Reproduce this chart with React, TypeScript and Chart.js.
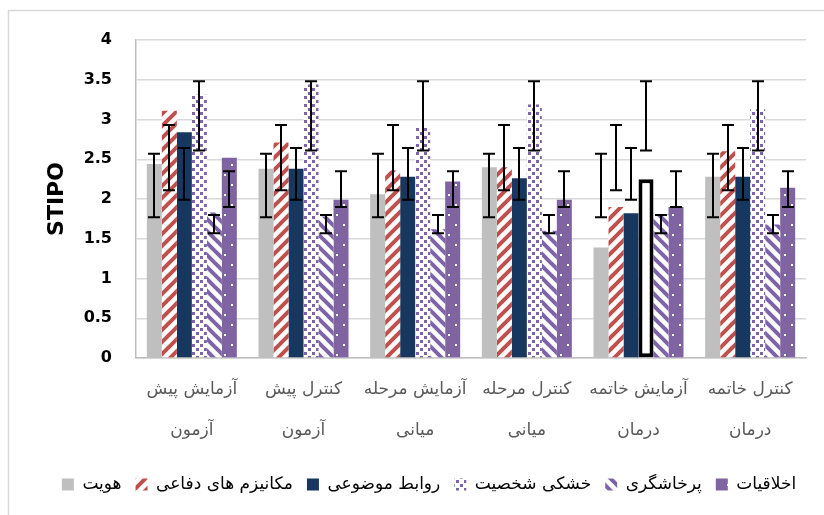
import { useEffect, useRef } from 'react';
import { Chart, registerables } from 'chart.js';
Chart.register(...registerables);

const FONT = "'DejaVu Sans', sans-serif";

const categories = [
  ['آزمایش پیش', 'آزمون'],
  ['کنترل پیش', 'آزمون'],
  ['آزمایش مرحله', 'میانی'],
  ['کنترل مرحله', 'میانی'],
  ['آزمایش خاتمه', 'درمان'],
  ['کنترل خاتمه', 'درمان'],
];

const seriesNames = ['هویت', 'مکانیزم های دفاعی', 'روابط موضوعی', 'خشکی شخصیت', 'پرخاشگری', 'اخلاقیات'];

const identity = [2.44, 2.38, 2.06, 2.40, 1.39, 2.28];
const defense = [3.11, 2.71, 2.36, 2.40, 1.90, 2.60];
const objectRelations = [2.84, 2.38, 2.28, 2.26, 1.82, 2.28];
const rigidity = [3.31, 3.44, 2.90, 3.19, 2.25, 3.13];
const aggression = [1.83, 1.78, 1.62, 1.60, 1.81, 1.68];
const morality = [2.52, 1.99, 2.22, 1.99, 1.90, 2.14];

const identityErrLow = [1.77, 1.77, 1.77, 1.77, 1.77, 1.77];
const identityErrHigh = [2.57, 2.57, 2.57, 2.57, 2.57, 2.57];
const defenseErrLow = [2.11, 2.11, 2.11, 2.11, 2.11, 2.11];
const defenseErrHigh = [2.93, 2.93, 2.93, 2.93, 2.93, 2.93];
const objectErrLow = [1.99, 1.99, 1.99, 1.99, 1.99, 1.99];
const objectErrHigh = [2.64, 2.64, 2.64, 2.64, 2.64, 2.64];
const rigidityErrLow = [2.61, 2.61, 2.61, 2.61, 2.61, 2.61];
const rigidityErrHigh = [3.48, 3.48, 3.48, 3.48, 3.48, 3.48];
const aggressionErrLow = [1.57, 1.57, 1.57, 1.57, 1.57, 1.57];
const aggressionErrHigh = [1.80, 1.80, 1.80, 1.80, 1.80, 1.80];
const moralityErrLow = [1.90, 1.90, 1.90, 1.90, 1.90, 1.90];
const moralityErrHigh = [2.35, 2.35, 2.35, 2.35, 2.35, 2.35];

const yTicks = [0, 0.5, 1, 1.5, 2, 2.5, 3, 3.5, 4];
const yTickLabels = ['0', '0.5', '1', '1.5', '2', '2.5', '3', '3.5', '4'];

function tile(w: number, h: number, draw: (c: CanvasRenderingContext2D) => void): CanvasPattern {
  const cv = document.createElement('canvas');
  cv.width = w;
  cv.height = h;
  const c = cv.getContext('2d')!;
  draw(c);
  const main = document.createElement('canvas').getContext('2d')!;
  return main.createPattern(cv, 'repeat')!;
}

function stripes(color: string, up: boolean, size: number, width: number) {
  return tile(size, size, (c) => {
    c.fillStyle = '#ffffff';
    c.fillRect(0, 0, size, size);
    c.strokeStyle = color;
    c.lineWidth = width;
    c.lineCap = 'square';
    for (const off of [-size, 0, size]) {
      c.beginPath();
      if (up) {
        c.moveTo(off, size);
        c.lineTo(off + size, 0);
      } else {
        c.moveTo(off, 0);
        c.lineTo(off + size, size);
      }
      c.stroke();
    }
  });
}

export default function App() {
  const ref = useRef<HTMLCanvasElement>(null);

  useEffect(() => {
    const redStripes = stripes('#C0504D', true, 12, 4);
    const purpleStripes = stripes('#7F63A8', false, 12, 4);
    const dots = tile(8, 8, (c) => {
      c.fillStyle = '#ffffff';
      c.fillRect(0, 0, 8, 8);
      c.fillStyle = '#7F63A8';
      c.fillRect(0, 0, 3, 3);
      c.fillRect(4, 4, 3, 3);
    });
    const purpleDots = tile(16, 20, (c) => {
      c.fillStyle = '#8064A2';
      c.fillRect(0, 0, 16, 20);
      c.fillStyle = '#ffffff';
      c.fillRect(7, 4, 2, 2);
      c.fillRect(0, 14, 2, 2);
    });

    const fills: any[] = ['#BFBFBF', redStripes, '#17375E', dots, purpleStripes, purpleDots];
    const values = [identity, defense, objectRelations, rigidity, aggression, morality];
    const errLow = [identityErrLow, defenseErrLow, objectErrLow, rigidityErrLow, aggressionErrLow, moralityErrLow];
    const errHigh = [identityErrHigh, defenseErrHigh, objectErrHigh, rigidityErrHigh, aggressionErrHigh, moralityErrHigh];

    const datasets = values.map((vals, i) => {
      if (i === 3) {
        return {
          label: seriesNames[i],
          data: vals,
          backgroundColor: vals.map((_, j) => (j === 4 ? '#ffffff' : dots)),
          borderColor: '#000000',
          borderWidth: vals.map((_, j) => (j === 4 ? 4 : 0)),
          borderSkipped: false,
        };
      }
      return {
        label: seriesNames[i],
        data: vals,
        backgroundColor: fills[i],
        borderWidth: 0,
      };
    });

    const framePlugin = {
      id: 'frame',
      beforeDraw(chart: any) {
        const ctx = chart.ctx;
        ctx.save();
        ctx.fillStyle = '#ffffff';
        ctx.fillRect(0, 0, chart.width, chart.height);
        ctx.strokeStyle = '#D9D9D9';
        ctx.lineWidth = 1.5;
        ctx.beginPath();
        ctx.moveTo(8.5, chart.height);
        ctx.lineTo(8.5, 10.5);
        ctx.lineTo(chart.width, 10.5);
        ctx.stroke();
        ctx.restore();
      },
      afterLayout(chart: any) {
        const lg = chart.legend;
        if (lg) {
          lg.left += 26;
          lg.right += 26;
          lg.top += 14;
          lg.bottom += 14;
        }
      },
    };

    const errorBarPlugin = {
      id: 'errorBars',
      afterDatasetsDraw(chart: any) {
        const ctx = chart.ctx;
        const y = chart.scales.y;
        ctx.save();
        ctx.strokeStyle = '#000000';
        ctx.lineWidth = 2;
        chart.data.datasets.forEach((_: any, d: number) => {
          const meta = chart.getDatasetMeta(d);
          meta.data.forEach((bar: any, j: number) => {
            const x = Math.round(bar.x);
            const y1 = y.getPixelForValue(errLow[d][j]);
            const y2 = y.getPixelForValue(errHigh[d][j]);
            ctx.beginPath();
            ctx.moveTo(x, y1);
            ctx.lineTo(x, y2);
            ctx.moveTo(x - 6, y1);
            ctx.lineTo(x + 6, y1);
            ctx.moveTo(x - 6, y2);
            ctx.lineTo(x + 6, y2);
            ctx.stroke();
          });
        });
        ctx.restore();
      },
    };

    const chart = new Chart(ref.current!, {
      type: 'bar',
      data: { labels: categories, datasets: datasets as any },
      plugins: [framePlugin, errorBarPlugin],
      options: {
        animation: false,
        responsive: false,
        layout: { padding: { left: 0, right: 18, top: 40, bottom: 26 } },
        datasets: {
          bar: { categoryPercentage: 0.806, barPercentage: 1 },
        },
        plugins: {
          tooltip: { enabled: false },
          legend: {
            position: 'bottom',
            labels: {
              boxWidth: 12,
              boxHeight: 12,
              padding: 14,
              color: '#000000',
              font: { family: FONT, size: 17 },
              generateLabels: () =>
                seriesNames.map((name, i) => ({
                  text: name,
                  fillStyle: fills[i],
                  strokeStyle: 'rgba(0,0,0,0)',
                  lineWidth: 0,
                  hidden: false,
                  datasetIndex: i,
                })),
            },
          },
        },
        scales: {
          x: {
            grid: { display: false, drawTicks: false },
            border: { display: true, color: '#BFBFBF', width: 1.5 },
            ticks: {
              color: '#595959',
              padding: 11,
              maxRotation: 0,
              autoSkip: false,
              font: { family: FONT, size: 17, lineHeight: '41px' },
            },
            afterFit: (s: any) => {
              s.height = 90;
            },
          },
          y: {
            min: 0,
            max: 4,
            afterBuildTicks: (s: any) => {
              s.ticks = yTicks.map((v) => ({ value: v }));
            },
            grid: { color: '#D9D9D9', lineWidth: 1.5, drawTicks: false },
            border: { display: true, color: '#BFBFBF', width: 1.5 },
            ticks: {
              color: '#000000',
              padding: 24,
              font: { family: FONT, size: 16, weight: 'bold' },
              callback: (_v: any, i: number) => yTickLabels[i],
            },
            title: {
              display: true,
              text: 'STIPO',
              color: '#000000',
              padding: { top: 44, bottom: 0 },
              font: { family: FONT, size: 22, weight: 'bold' },
            },
            afterFit: (s: any) => {
              s.width = 136;
            },
          },
        },
      },
    });
    return () => chart.destroy();
  }, []);

  return (
    <div style={{ position: 'absolute', left: 0, top: 0, width: 824, height: 515 }}>
      <canvas ref={ref} width={824} height={515} style={{ display: 'block' }} />
    </div>
  );
}
